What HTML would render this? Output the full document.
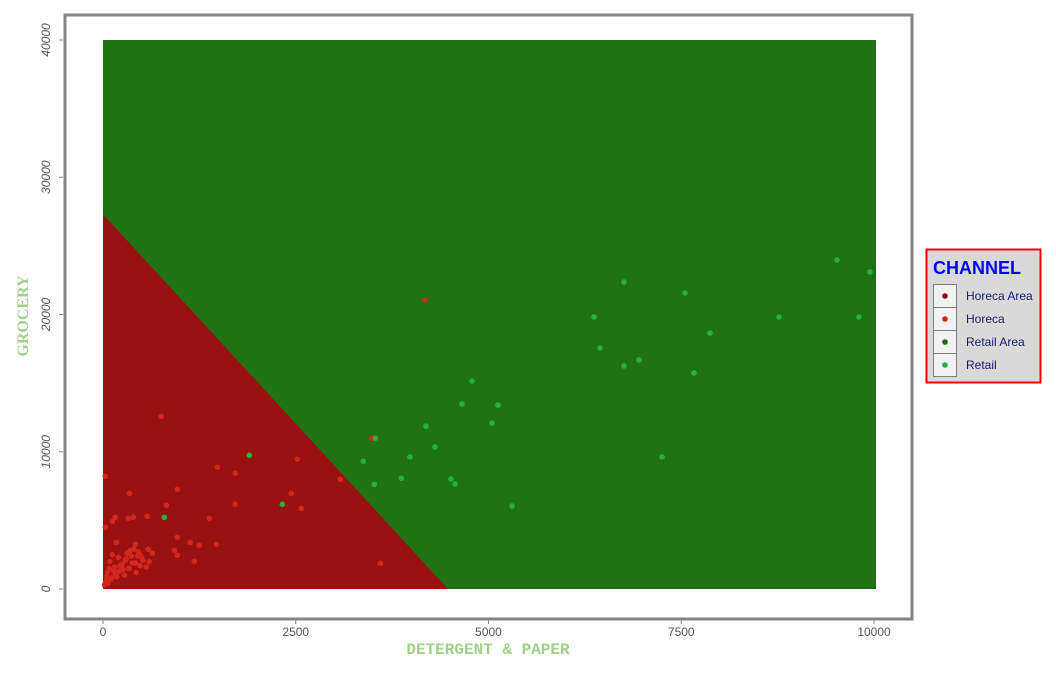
<!DOCTYPE html>
<html><head><meta charset="utf-8"><style>
body{margin:0;background:#fff;width:1056px;height:672px;overflow:hidden;font-family:"Liberation Sans",sans-serif}
</style></head><body>
<svg id="chart" width="1056" height="672" xmlns="http://www.w3.org/2000/svg">
<rect x="65" y="15" width="847" height="604" fill="#fff" stroke="#848484" stroke-width="3"/>
<g id="areas"></g><g id="pts"></g><g id="axes"></g>
<text x="488" y="654" text-anchor="middle" font-family="Liberation Mono,monospace" font-weight="bold" font-size="16" fill="#9fd18a">DETERGENT &amp; PAPER</text>
<text transform="translate(28,316) rotate(-90)" text-anchor="middle" font-family="Liberation Serif,serif" font-weight="bold" font-size="16" fill="#9fd18a">GROCERY</text>
<g>
<rect x="926.5" y="249.5" width="114" height="133" fill="#d9d9d9" stroke="#ff0000" stroke-width="2"/>
<text x="933" y="274" font-weight="bold" font-size="18" fill="#0000ff">CHANNEL</text>
<g id="leg"></g>
</g>
</svg>
<script>
const xTicks=[0,2500,5000,7500,10000];
const yTicks=[0,10000,20000,30000,40000];
const boundaryX=4475, boundaryY=27300;
const horecaX=[755,30,1483,1716,2520,964,342,822,1716,2443,2572,3078,575,393,328,160,121,30,1379,964,173,420,1132,1249,1470,925,964,588,484,1184,3597,3480,4176,
 60,90,120,150,200,250,280,300,330,350,400,420,450,480,520,560,600,640,100,140,180,220,260,310,370,430,20,40,70,110,160,210,240,290,340,380,460,500,50,80];
const horecaY=[12580,8210,8870,8430,9450,7260,6970,6100,6170,6970,5880,7990,5300,5220,5150,5220,4930,4500,5150,3770,3400,3260,3400,3190,3260,2820,2460,2890,2460,2020,1870,10980,21060,
 1200,2000,2500,1600,2300,1800,1000,2200,1500,2800,2900,1900,2400,1700,2100,1600,2000,2600,700,1300,900,1700,1400,2600,2400,1200,300,600,400,800,1000,1300,1700,2100,1500,1900,2700,2300,900,1500];
const retailX=[1898,2326,795,3532,3376,3519,3869,4189,3982,4306,4513,4565,4656,4786,5123,5045,5305,6368,6446,6757,6757,6952,7250,7549,7665,7873,8768,9520,9805,9948];
const retailY=[9740,6170,5220,10980,9300,7630,8070,11870,9620,10350,8010,7650,13480,15150,13400,12090,6050,19820,17560,22370,16250,16690,9620,21570,15740,18650,19820,23970,19820,23100];
const legLabels=["Horeca Area","Horeca","Retail Area","Retail"];
const legColors=["#8b0e0e","#d2261e","#1f6a14","#22b33a"];
const X=v=>103+v*0.0771, Y=v=>589-v*0.013725;
const NS="http://www.w3.org/2000/svg";
function mk(t,a,p){const e=document.createElementNS(NS,t);for(const k in a)e.setAttribute(k,a[k]);p.appendChild(e);return e;}
const A=document.getElementById('areas');
const g=mk('rect',{x:X(0),y:Y(40000),width:X(10000)-X(0)+2,height:Y(0)-Y(40000),fill:'#217215'},A);


const r=mk('polygon',{points:`${X(0)},${Y(0)} ${X(0)},${Y(boundaryY)} ${X(boundaryX)},${Y(0)}`,fill:'#991111'},A);


const P=document.getElementById('pts');
horecaX.forEach((x,i)=>{const c=mk('circle',{cx:X(x),cy:Y(horecaY[i]),r:2.8,fill:'#d2261e'},P);

});
retailX.forEach((x,i)=>{const c=mk('circle',{cx:X(x),cy:Y(retailY[i]),r:2.8,fill:'#22b33a'},P);

});
const AX=document.getElementById('axes');
xTicks.forEach(v=>{mk('line',{x1:X(v),x2:X(v),y1:620,y2:624,stroke:'#848484'},AX);
const t=mk('text',{x:X(v),y:636,'text-anchor':'middle','font-size':12,fill:'#555'},AX);t.textContent=v;

});
yTicks.forEach(v=>{mk('line',{x1:59,x2:63,y1:Y(v),y2:Y(v),stroke:'#848484'},AX);
const t=mk('text',{transform:`translate(50,${Y(v)}) rotate(-90)`,'text-anchor':'middle','font-size':12,'font-style':'italic',fill:'#555'},AX);t.textContent=v;

});
const L=document.getElementById('leg');
legLabels.forEach((s,i)=>{const y=284+i*23;
mk('rect',{x:933.5,y:y+0.5,width:23,height:23,fill:'#f2f2f2',stroke:'#7f7f7f'},L);
mk('circle',{cx:945,cy:y+12,r:2.8,fill:legColors[i]},L);
const t=mk('text',{x:966,y:y+16,'font-size':12,fill:'#1a1a6e'},L);t.textContent=s;

});
</script>
</body></html>
